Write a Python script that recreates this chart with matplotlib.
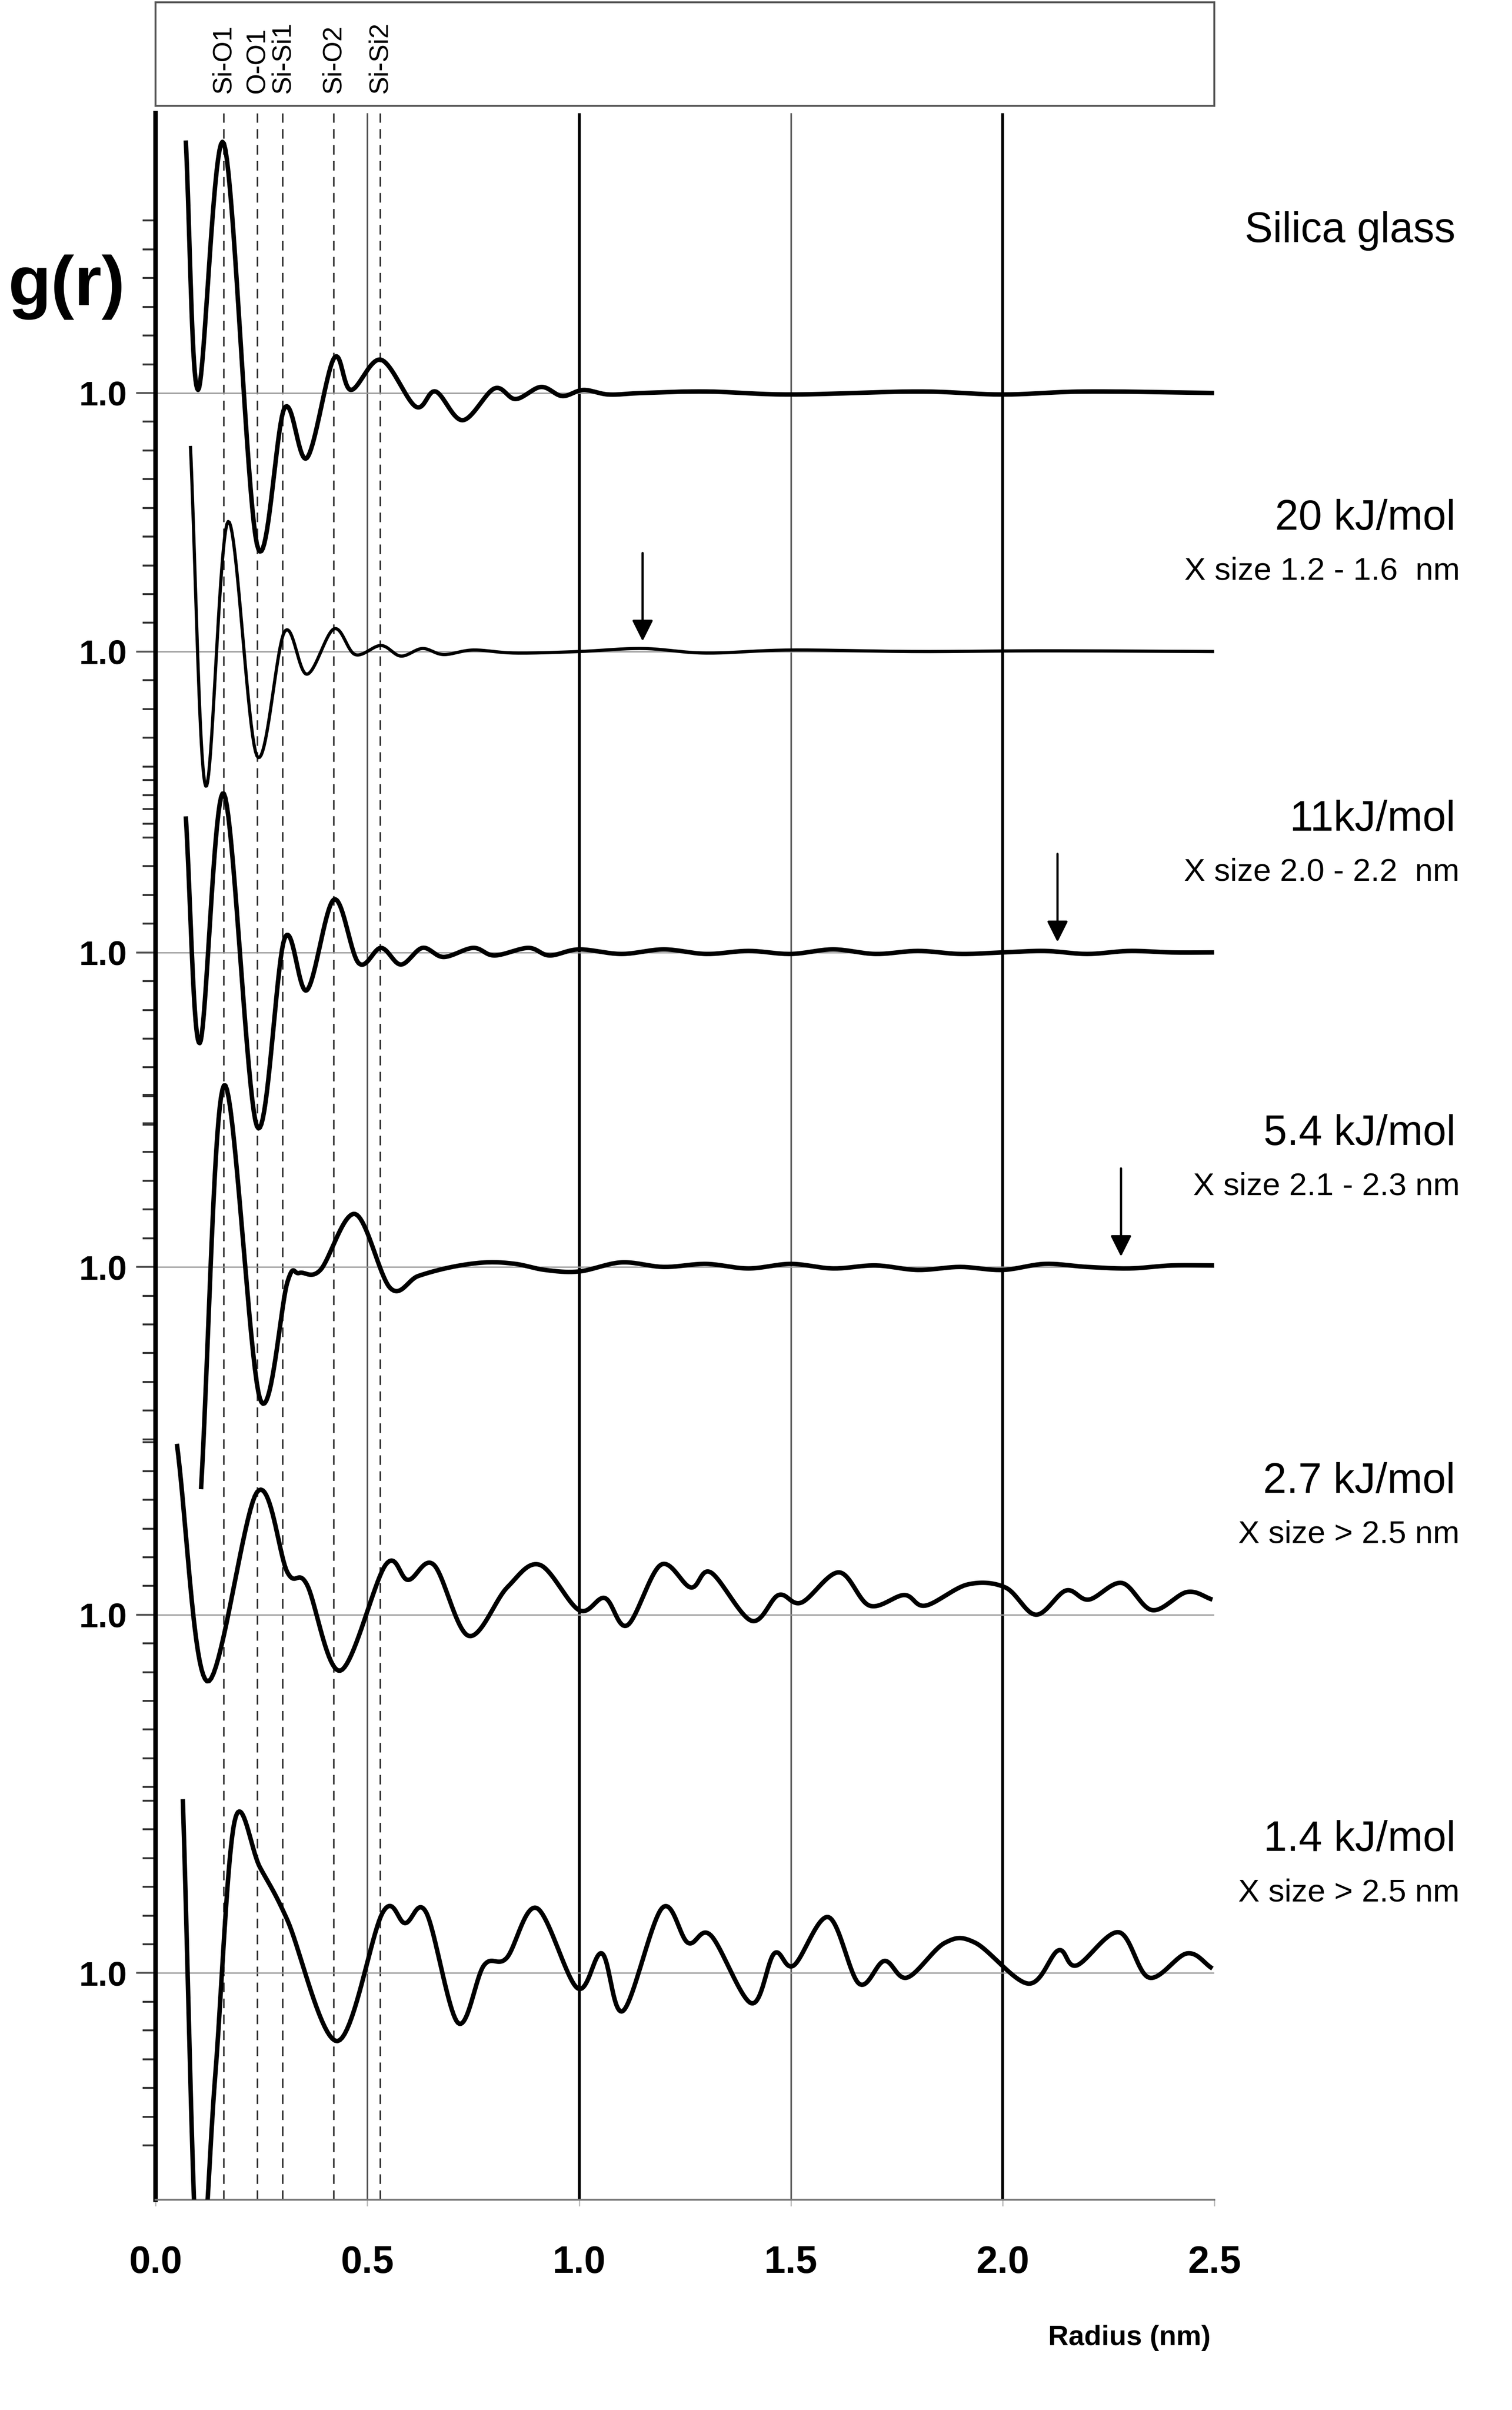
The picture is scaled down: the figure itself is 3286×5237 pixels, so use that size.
import numpy as np
import matplotlib.pyplot as plt

plt.rcParams['font.family'] = ['Liberation Sans', 'DejaVu Sans']

# g(r) curves (r in nm, g dimensionless)
r_silica = [0.071, 0.100, 0.161, 0.239, 0.304, 0.357, 0.421, 0.461, 0.532, 0.614, 0.661, 0.725, 0.80, 0.85, 0.91, 0.96, 1.01, 1.07, 1.15, 1.3, 1.5, 1.8, 2.0, 2.2, 2.5]
g_silica = [2.67, 1.02, 2.65, 0.00, 0.90, 0.57, 1.23, 1.02, 1.22, 0.91, 1.01, 0.82, 1.03, 0.96, 1.04, 0.98, 1.02, 0.99, 1.00, 1.01, 0.99, 1.01, 0.99, 1.01, 1.00]

r_20 = [0.082, 0.118, 0.171, 0.239, 0.304, 0.357, 0.421, 0.471, 0.532, 0.579, 0.63, 0.68, 0.75, 0.85, 1.0, 1.15, 1.3, 1.5, 1.8, 2.1, 2.5]
g_20 = [2.36, 0.11, 1.86, 0.31, 1.13, 0.85, 1.15, 0.98, 1.04, 0.97, 1.02, 0.98, 1.01, 0.99, 1.00, 1.02, 0.99, 1.01, 1.00, 1.005, 1.00]

r_11 = [0.071, 0.104, 0.161, 0.239, 0.304, 0.357, 0.421, 0.479, 0.532, 0.579, 0.63, 0.68, 0.75, 0.80, 0.88, 0.93, 1.0, 1.1, 1.2, 1.3, 1.4, 1.5, 1.6, 1.7, 1.8, 1.9, 2.0, 2.1, 2.2, 2.3, 2.4, 2.5]
g_11 = [1.90, 0.40, 2.05, -0.15, 1.09, 0.75, 1.35, 0.93, 1.03, 0.92, 1.03, 0.97, 1.03, 0.98, 1.03, 0.98, 1.02, 0.99, 1.02, 0.99, 1.01, 0.99, 1.02, 0.99, 1.01, 0.99, 1.00, 1.01, 0.99, 1.01, 1.00, 1.00]

r_54 = [0.107, 0.161, 0.246, 0.311, 0.339, 0.389, 0.471, 0.554, 0.62, 0.70, 0.78, 0.85, 0.92, 1.0, 1.1, 1.2, 1.3, 1.4, 1.5, 1.6, 1.7, 1.8, 1.9, 2.0, 2.1, 2.2, 2.3, 2.4, 2.5]
g_54 = [-0.47, 2.20, 0.13, 0.90, 0.96, 0.98, 1.35, 0.86, 0.94, 1.00, 1.03, 1.02, 0.98, 0.97, 1.03, 1.00, 1.02, 0.99, 1.02, 0.99, 1.01, 0.98, 1.00, 0.98, 1.02, 1.00, 0.99, 1.01, 1.01]

r_27 = [0.050, 0.121, 0.239, 0.311, 0.357, 0.436, 0.543, 0.596, 0.657, 0.739, 0.83, 0.907, 1.0, 1.061, 1.114, 1.193, 1.264, 1.311, 1.407, 1.471, 1.525, 1.614, 1.686, 1.768, 1.818, 1.918, 2.007, 2.079, 2.15, 2.204, 2.282, 2.354, 2.436, 2.496]
g_27 = [2.13, 0.56, 1.81, 1.28, 1.20, 0.63, 1.33, 1.23, 1.33, 0.86, 1.18, 1.33, 1.03, 1.11, 0.93, 1.33, 1.18, 1.28, 0.96, 1.13, 1.08, 1.28, 1.06, 1.13, 1.06, 1.20, 1.18, 1.00, 1.16, 1.10, 1.21, 1.03, 1.15, 1.10]

r_14 = [0.064, 0.100, 0.140, 0.186, 0.246, 0.311, 0.429, 0.536, 0.589, 0.639, 0.714, 0.775, 0.829, 0.90, 0.996, 1.054, 1.104, 1.196, 1.257, 1.311, 1.407, 1.461, 1.507, 1.589, 1.661, 1.721, 1.775, 1.864, 1.936, 2.061, 2.132, 2.175, 2.275, 2.346, 2.436, 2.496]
g_14 = [2.15, -1.0, 0.3, 2.00, 1.70, 1.35, 0.55, 1.40, 1.33, 1.40, 0.67, 1.05, 1.10, 1.43, 0.90, 1.13, 0.75, 1.43, 1.20, 1.25, 0.80, 1.13, 1.05, 1.37, 0.93, 1.08, 0.97, 1.20, 1.20, 0.93, 1.15, 1.05, 1.27, 0.97, 1.13, 1.03]

curves = [(r_silica, g_silica), (r_20, g_20), (r_11, g_11), (r_54, g_54), (r_27, g_27), (r_14, g_14)]
baselines = [-2.60, -4.31, -6.30, -8.38, -10.68, -13.05]
widths = [7, 5, 7, 7, 7, 7]
titles = ['Silica glass', '20 kJ/mol', '11kJ/mol', '5.4 kJ/mol', '2.7 kJ/mol', '1.4 kJ/mol']
subtitles = ['', 'X size 1.2 - 1.6  nm', 'X size 2.0 - 2.2  nm', 'X size 2.1 - 2.3 nm', 'X size > 2.5 nm', 'X size > 2.5 nm']
arrow_r = [None, 1.15, 2.13, 2.28, None, None]

peak_r = [0.16, 0.24, 0.30, 0.42, 0.53]
peak_names = ['Si-O1', 'O-O1', 'Si-Si1', 'Si-O2', 'Si-Si2']


def smooth(x, y, n=20):
    # Catmull-Rom through the read points
    x = np.asarray(x, float); y = np.asarray(y, float)
    xp = np.concatenate([[2 * x[0] - x[1]], x, [2 * x[-1] - x[-2]]])
    yp = np.concatenate([[2 * y[0] - y[1]], y, [2 * y[-1] - y[-2]]])
    xs, ys = [], []
    t = np.linspace(0, 1, n, endpoint=False)
    for i in range(1, len(xp) - 2):
        for arr, out in ((xp, xs), (yp, ys)):
            p0, p1, p2, p3 = arr[i - 1:i + 3]
            out.append(0.5 * (2 * p1 + (-p0 + p2) * t + (2 * p0 - 5 * p1 + 4 * p2 - p3) * t ** 2
                              + (-p0 + 3 * p1 - 3 * p2 + p3) * t ** 3))
    return np.concatenate(xs + [[x[-1]]]), np.concatenate(ys + [[y[-1]]])


fig = plt.figure(figsize=(32.86, 52.37), dpi=100)
ax = fig.add_axes([0.103, 0.0872, 0.70, 0.8658])
top = fig.add_axes([0.103, 0.956, 0.70, 0.043])

ax.set_xlim(0, 2.5)
ax.set_ylim(-14.55, -0.75)

for xv in [0.5, 1.5]:
    ax.axvline(xv, color='#555555', lw=2.5, zorder=1)
for xv in [1.0, 2.0]:
    ax.axvline(xv, color='black', lw=4.5, zorder=1)
for xv in peak_r:
    ax.axvline(xv, color='#333333', lw=2.5, ls=(0, (6, 4)), zorder=1)

minor = []
for k, ((r, g), base) in enumerate(zip(curves, baselines)):
    ax.axhline(base, color='#999999', lw=2, zorder=1)
    xs, ys = smooth(r, g)
    ax.plot(xs, ys - 1 + base, color='black', lw=widths[k], zorder=3, solid_capstyle='butt')
    minor += [base + 0.19 * j for j in range(-6, 7) if j != 0]
    ax.text(3.07, base + (1.07 if k == 0 else 0.88), titles[k], fontsize=66, ha='right',
            va='center', clip_on=False)
    if subtitles[k]:
        ax.text(3.08, base + 0.53, subtitles[k], fontsize=50, ha='right', va='center',
                clip_on=False)
    if arrow_r[k] is not None:
        ax.annotate('', xy=(arrow_r[k], base + 0.06), xytext=(arrow_r[k], base + 0.66),
                    arrowprops=dict(arrowstyle='-|>', color='black', lw=3.5,
                                    mutation_scale=70), zorder=4)

ax.set_yticks(baselines)
ax.set_yticklabels(['1.0'] * len(baselines), fontsize=54, fontweight='bold')
ax.set_yticks([m for m in minor if -14.55 < m < -0.75], minor=True)
ax.tick_params(axis='y', which='major', length=30, width=3, color='#555555', pad=15)
ax.tick_params(axis='y', which='minor', length=20, width=3, color='#333333')

ax.set_xticks([0, 0.5, 1.0, 1.5, 2.0, 2.5])
ax.set_xticklabels(['0.0', '0.5', '1.0', '1.5', '2.0', '2.5'], fontsize=60, fontweight='bold')
ax.tick_params(axis='x', length=10, width=2, color='#bbbbbb', pad=60)
ax.set_xlabel('Radius (nm)', fontsize=44, fontweight='bold')
ax.xaxis.set_label_coords(0.92, -0.06)

ax.spines['left'].set_linewidth(7)
ax.spines['bottom'].set_color('#777777')
ax.spines['bottom'].set_linewidth(3)
ax.spines['top'].set_visible(False)
ax.spines['right'].set_visible(False)

ax.text(-0.21, -1.9, 'g(r)', fontsize=110, fontweight='bold', ha='center', va='center',
        clip_on=False)

top.set_xlim(0, 2.5)
top.set_ylim(0, 1)
top.set_xticks([]); top.set_yticks([])
for s in top.spines.values():
    s.set_linewidth(3)
    s.set_color('#555555')
for xv, name in zip(peak_r, peak_names):
    top.text(xv, 0.12, name, rotation=90, fontsize=42, ha='center', va='bottom')

fig.savefig('out.png', dpi=100)
